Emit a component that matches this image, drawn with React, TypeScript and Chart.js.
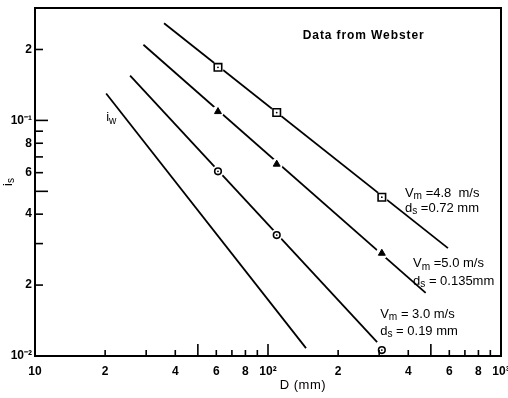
import React, { useEffect, useRef } from "react";
import { Chart, registerables } from "chart.js";

Chart.register(...registerables);

// Measured points (D in mm, i_s)
const markerD = [61, 109, 308];
const squareIs = [0.168, 0.108, 0.0472];
const triangleIs = [0.109, 0.0652, 0.0273];
const circleIs = [0.0608, 0.0326, 0.0106];

// Fitted lines (start and end points)
const squareLineD = [35.8, 592];
const squareLineI = [0.2584, 0.0287];
const triangleLineD = [29.2, 475];
const triangleLineI = [0.2094, 0.01854];
const circleLineD = [25.6, 294];
const circleLineI = [0.155, 0.01146];
const iwLineD = [20.2, 145.6];
const iwLineI = [0.13, 0.0108];

// Axis ticks
const xLabelTicks = [10, 20, 40, 60, 80, 100, 200, 400, 600, 800, 1000];
const xTickLabels = ["10", "2", "4", "6", "8", "10²", "2", "4", "6", "8", "10³"];
const xLongTicks = [50, 100, 500];
const xShortTicks = [20, 30, 40, 60, 70, 80, 90, 200, 300, 400, 600, 700, 800, 900];
const yLabelTicks = [0.01, 0.02, 0.04, 0.06, 0.08, 0.1, 0.2];
const yTickLabels = ["10⁻²", "2", "4", "6", "8", "10⁻¹", "2"];
const yLongTicks = [0.05, 0.1];
const yShortTicks = [0.02, 0.03, 0.04, 0.06, 0.07, 0.08, 0.09, 0.2];

const pts = (xs: number[], ys: number[]) => xs.map((x, i) => ({ x, y: ys[i] }));

type Part = [string, boolean];
const FONT = "'Liberation Sans', Arial, sans-serif";

function drawParts(
  ctx: CanvasRenderingContext2D,
  x: number,
  y: number,
  parts: Part[],
  size: number,
  weight = "normal",
  spacing = 0
) {
  let cx = x;
  ctx.textAlign = "left";
  ctx.textBaseline = "middle";
  (ctx as any).letterSpacing = `${spacing}px`;
  for (const [t, sub] of parts) {
    const s = sub ? size * 0.78 : size;
    ctx.font = `${weight} ${s}px ${FONT}`;
    ctx.fillText(t, cx, sub ? y + size * 0.25 : y);
    cx += ctx.measureText(t).width;
  }
  (ctx as any).letterSpacing = "0px";
}

const annotations: { d: number; i: number; parts: Part[] }[] = [
  { d: 387, i: 0.0491, parts: [["V", false], ["m", true], [" =4.8  m/s", false]] },
  { d: 387, i: 0.0424, parts: [["d", false], ["s", true], [" =0.72 mm", false]] },
  { d: 419, i: 0.0246, parts: [["V", false], ["m", true], [" =5.0 m/s", false]] },
  { d: 419, i: 0.0208, parts: [["d", false], ["s", true], [" = 0.135mm", false]] },
  { d: 303, i: 0.01507, parts: [["V", false], ["m", true], [" = 3.0 m/s", false]] },
  { d: 303, i: 0.01276, parts: [["d", false], ["s", true], [" = 0.19 mm", false]] },
  { d: 20.2, i: 0.1025, parts: [["i", false], ["w", true]] },
];

const framePlugin = {
  id: "frame",
  afterDraw(chart: any) {
    const { ctx, chartArea, scales } = chart;
    const { left, right, top, bottom } = chartArea;
    const xs = scales.x;
    const ys = scales.y;
    ctx.save();
    ctx.strokeStyle = "#000";
    ctx.fillStyle = "#000";
    ctx.lineWidth = 2;
    ctx.strokeRect(left, top, right - left, bottom - top);

    ctx.lineWidth = 1.6;
    const xTick = (v: number, len: number) => {
      const px = xs.getPixelForValue(v);
      ctx.beginPath();
      ctx.moveTo(px, bottom);
      ctx.lineTo(px, bottom - len);
      ctx.stroke();
    };
    const yTick = (v: number, len: number) => {
      const py = ys.getPixelForValue(v);
      ctx.beginPath();
      ctx.moveTo(left, py);
      ctx.lineTo(left + len, py);
      ctx.stroke();
    };
    xShortTicks.forEach((v) => xTick(v, 6));
    xLongTicks.forEach((v) => xTick(v, 12));
    yShortTicks.forEach((v) => yTick(v, 8));
    yLongTicks.forEach((v) => yTick(v, 13));

    // annotations
    drawParts(ctx, xs.getPixelForValue(141), ys.getPixelForValue(0.229), [["Data from Webster", false]], 12, "bold", 0.9);
    for (const a of annotations) {
      drawParts(ctx, xs.getPixelForValue(a.d), ys.getPixelForValue(a.i), a.parts, 13);
    }

    // axis titles
    (ctx as any).letterSpacing = "0.5px";
    ctx.font = `normal 13px ${FONT}`;
    ctx.textAlign = "center";
    ctx.textBaseline = "middle";
    ctx.fillText("D (mm)", left + (right - left) * 0.575, bottom + 29);
    (ctx as any).letterSpacing = "0px";

    ctx.save();
    ctx.translate(8, (top + bottom) / 2);
    ctx.rotate(-Math.PI / 2);
    drawParts(ctx, -4, 0, [["i", false], ["s", true]], 13);
    ctx.restore();

    ctx.restore();
  },
};

export default function App() {
  const ref = useRef<HTMLCanvasElement | null>(null);
  useEffect(() => {
    document.body.style.margin = "0";
    const canvas = ref.current;
    if (!canvas) return;
    const lineDs = (xs: number[], ys: number[]) => ({
      data: pts(xs, ys),
      showLine: true,
      borderColor: "#000",
      borderWidth: 1.8,
      pointRadius: 0,
    });
    const halo = (ys: number[]) => ({
      data: pts(markerD, ys),
      showLine: false,
      pointRadius: 6,
      pointBackgroundColor: "#fff",
      pointBorderWidth: 0,
      pointBorderColor: "#fff",
    });
    const chart = new Chart(canvas, {
      type: "scatter",
      data: {
        datasets: [
          {
            data: [...pts(markerD, squareIs), ...pts(markerD, circleIs)],
            pointRadius: 0.9,
            pointBackgroundColor: "#000",
            pointBorderWidth: 0,
          },
          {
            data: pts(markerD, squareIs),
            pointStyle: "rect",
            pointRadius: 5.3,
            pointBackgroundColor: "#fff",
            pointBorderColor: "#000",
            pointBorderWidth: 1.6,
          },
          {
            data: pts(markerD, triangleIs),
            pointStyle: "triangle",
            pointRadius: 4,
            pointBackgroundColor: "#000",
            pointBorderColor: "#000",
            pointBorderWidth: 1,
          },
          {
            data: pts(markerD, circleIs),
            pointStyle: "circle",
            pointRadius: 3.3,
            pointBackgroundColor: "#fff",
            pointBorderColor: "#000",
            pointBorderWidth: 1.6,
          },
          halo(squareIs),
          halo(triangleIs),
          halo(circleIs),
          lineDs(squareLineD, squareLineI),
          lineDs(triangleLineD, triangleLineI),
          lineDs(circleLineD, circleLineI),
          lineDs(iwLineD, iwLineI),
        ] as any,
      },
      options: {
        animation: false,
        responsive: false,
        devicePixelRatio: 1,
        layout: { padding: { left: 0, right: 7, top: 8, bottom: 0 } },
        plugins: { legend: { display: false }, tooltip: { enabled: false } },
        scales: {
          x: {
            type: "logarithmic",
            min: 10,
            max: 1000,
            grid: { display: false, drawTicks: false },
            border: { display: false },
            afterBuildTicks: (s: any) => {
              s.ticks = xLabelTicks.map((v) => ({ value: v }));
            },
            afterFit: (s: any) => {
              s.height = 42;
              s.paddingLeft = 0;
              s.paddingRight = 0;
            },
            ticks: {
              autoSkip: false,
              maxRotation: 0,
              padding: 8,
              color: "#000",
              font: { family: FONT, size: 12, weight: "bold" },
              callback: (v: any) => xTickLabels[xLabelTicks.indexOf(Number(v))] ?? "",
            },
          },
          y: {
            type: "logarithmic",
            min: 0.01,
            max: 0.3,
            grid: { display: false, drawTicks: false },
            border: { display: false },
            afterBuildTicks: (s: any) => {
              s.ticks = yLabelTicks.map((v) => ({ value: v }));
            },
            afterFit: (s: any) => {
              s.width = 35;
              s.paddingTop = 0;
              s.paddingBottom = 0;
            },
            ticks: {
              autoSkip: false,
              padding: 3,
              color: "#000",
              font: { family: FONT, size: 12, weight: "bold" },
              callback: (v: any) => yTickLabels[yLabelTicks.indexOf(Number(v))] ?? "",
            },
          },
        },
      } as any,
      plugins: [framePlugin],
    });
    return () => chart.destroy();
  }, []);
  return (
    <div style={{ width: 508, height: 398, background: "#fff" }}>
      <canvas ref={ref} width={508} height={398} style={{ display: "block" }} />
    </div>
  );
}
